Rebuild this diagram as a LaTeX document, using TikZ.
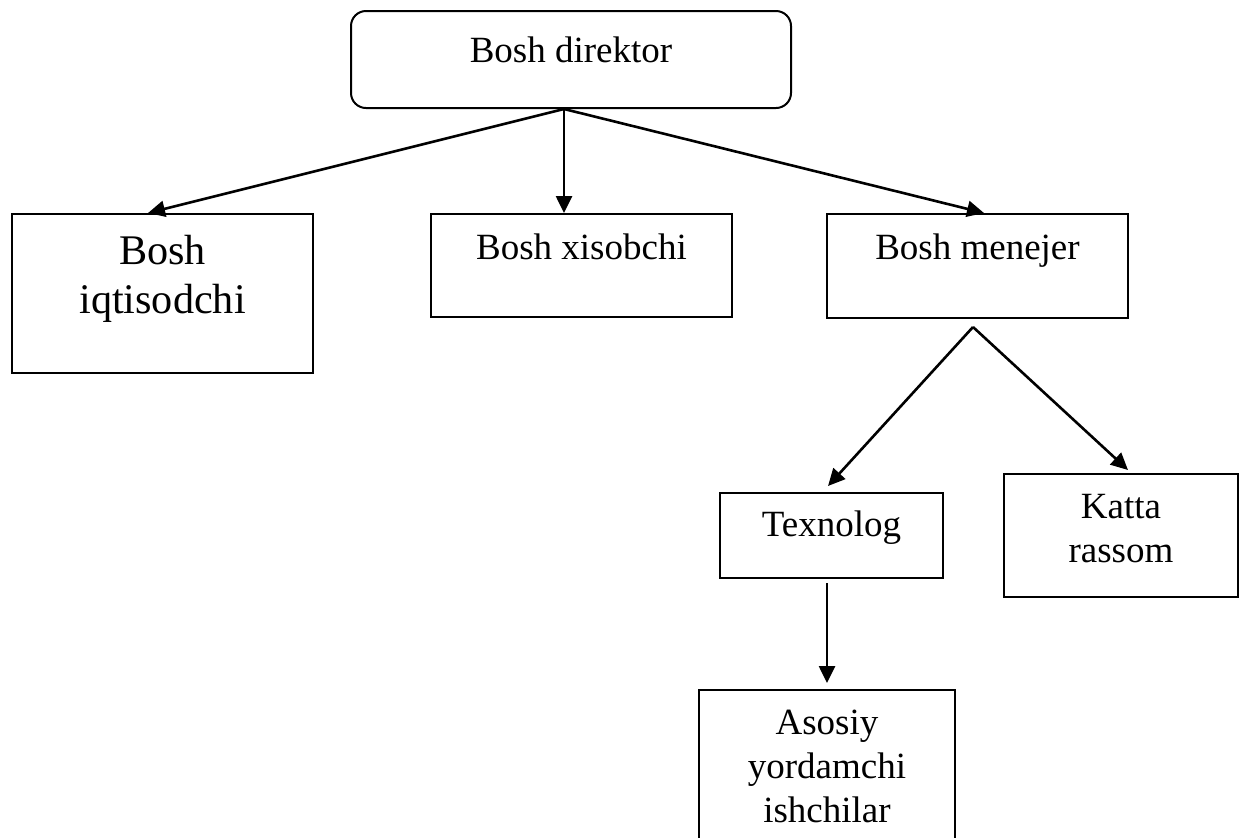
\documentclass[tikz,border=0pt]{standalone}
\usepackage{fontspec}
\setmainfont{Liberation Serif}
\usetikzlibrary{arrows.meta,calc}
\newcommand\bxt[4]{\parbox[c][#1][t]{#2}{\centering\vspace*{#3}\strut #4\par}}
\begin{document}
\begin{tikzpicture}[x=0.5pt,y=-0.5pt,
  box/.style={draw,line width=1pt,inner sep=0pt,anchor=north west,
    font=\fontsize{18.5pt}{22pt}\selectfont},
  bigbox/.style={box,font=\fontsize{21.1pt}{24.5pt}\selectfont},
  arr/.style={line width=1.3pt,-{Triangle[length=8.5pt,width=8pt]}}]
\useasboundingbox (0,0) rectangle (1242,837);
\clip (0,0) rectangle (1242,837);
\node[box,rounded corners=7.5pt] (bd) at (350,10) {\bxt{48.5pt}{220pt}{10.1pt}{Bosh direktor}};
\node[bigbox] (bi) at (11,213) {\bxt{79.5pt}{150.5pt}{7.85pt}{Bosh\\iqtisodchi}};
\node[box] (bx) at (430,213) {\bxt{51.5pt}{150.5pt}{7.1pt}{Bosh xisobchi}};
\node[box] (bm) at (826,213) {\bxt{52pt}{150.5pt}{7.1pt}{Bosh menejer}};
\node[box] (tx) at (719,492) {\bxt{42.5pt}{111.5pt}{6.1pt}{Texnolog}};
\node[box] (kr) at (1003,473) {\bxt{61.5pt}{117pt}{6.6pt}{Katta\\rassom}};
\node[box] (ay) at (698,689) {\bxt{80.5pt}{128pt}{6.6pt}{Asosiy\\yordamchi\\ishchilar}};
\coordinate (bdo) at ($(bd.south)+(-7,0)$);
\draw[arr] (bdo) -- ($(bi.north)+(-14.5,0)$);
\draw[arr] (bdo) -- (bdo |- bx.north);
\draw[arr] (bdo) -- ($(bm.north)+(6.5,0)$);
\coordinate (bmo) at ($(bm.south)+(-4.5,8)$);
\draw[arr] (bmo) -- ($(tx.north)+(-3.5,-6)$);
\draw[arr] (bmo) -- ($(kr.north)+(7,-3)$);
\draw[arr] ($(ay.north |- tx.south)+(0,4)$) -- ($(ay.north)+(0,-6)$);
\end{tikzpicture}
\end{document}
